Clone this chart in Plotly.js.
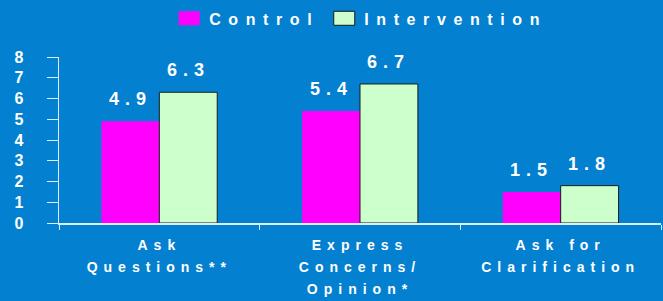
<!DOCTYPE html>
<html><head><meta charset="utf-8">
<script src="https://cdn.plot.ly/plotly-3.0.1.min.js"></script>
<style>
html,body{margin:0;padding:0;background:#0480D0;overflow:hidden;}
.xtick text{letter-spacing:6px;}
.legendtext{letter-spacing:7.6px;}
.annotation-text{letter-spacing:6px;}
.legendpoints path{d:path("M10.5,7H-10.5V-7H10.5Z");}
</style></head><body><div id="chart" style="width:663px;height:301px;"></div>
<script>
const categories = ["Ask<br>Questions**", "Express<br>Concerns/<br>Opinion*", "Ask for<br>Clarification"];
const seriesNames = ["Control", "Intervention"];
const controlValues = [4.9, 5.4, 1.5];
const interventionValues = [6.3, 6.7, 1.8];
const yTickValues = [0, 1, 2, 3, 4, 5, 6, 7, 8];

const font = "'Liberation Sans', Arial, sans-serif";
const bargap = 0.423;
const half = (1 - bargap) / 4;

const tickText = categories.map(c => c.split('<br>').map(l => '<span style="font-size:14px">' + l + '</span>').join('<br>'));

const traces = [
  {type: 'bar', name: seriesNames[0], x: categories, y: controlValues,
   marker: {color: '#FF00FF', line: {color: '#FF00FF', width: 0}}, hoverinfo: 'none'},
  {type: 'bar', name: seriesNames[1], x: categories, y: interventionValues,
   marker: {color: '#CCFFCC', line: {color: '#1A1A1A', width: 1}}, hoverinfo: 'none'}
];

const annotations = [];
[controlValues, interventionValues].forEach((vals, s) => {
  vals.forEach((v, i) => {
    annotations.push({
      x: i + (s === 0 ? -half : half), y: v, xref: 'x', yref: 'y',
      text: v.toFixed(1), showarrow: false, yanchor: 'bottom', yshift: 10,
      font: {family: font, size: 18, color: '#FFFFFF', weight: 'bold'}
    });
  });
});

const axisColor = '#DDEEFB';
const layout = {
  width: 663, height: 301,
  paper_bgcolor: '#0480D0', plot_bgcolor: '#0480D0',
  margin: {l: 59, r: 2, t: 57, b: 78},
  barmode: 'group', bargap: bargap, bargroupgap: 0,
  showlegend: true,
  legend: {orientation: 'h', x: 0.183, xanchor: 'left', y: 1.335, yanchor: 'top',
    font: {family: font, size: 16, color: '#FFFFFF', weight: 'bold'}, bgcolor: 'rgba(0,0,0,0)', traceorder: 'normal'},
  xaxis: {type: 'category', range: [-0.5, 2.5], tickvals: categories, ticktext: tickText,
    showline: true, linecolor: axisColor, linewidth: 1.5, ticks: 'outside', ticklen: 5, tickcolor: axisColor,
    tickson: 'boundaries', showgrid: false, zeroline: false, ticklabelstandoff: 5,
    tickfont: {family: font, size: 17, color: '#FFFFFF', weight: 'bold'}},
  yaxis: {range: [0, 8], tickvals: yTickValues, showline: true, linecolor: axisColor, linewidth: 1.5,
    ticks: 'outside', ticklen: 11, tickcolor: axisColor, showgrid: false, zeroline: false,
    ticklabelstandoff: 20,
    tickfont: {family: font, size: 16, color: '#FFFFFF', weight: 'bold'}},
  annotations: annotations
};

Plotly.newPlot('chart', traces, layout, {displayModeBar: false, staticPlot: true});
</script></body></html>
